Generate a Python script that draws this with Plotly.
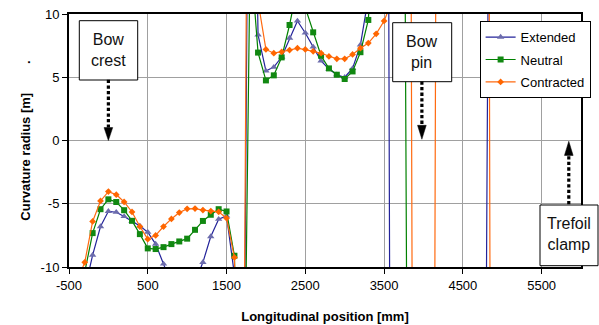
import plotly.graph_objects as go

# ---------------- data ----------------
positions_mm = [-400, -300, -200, -100, 0, 100, 200, 300, 400, 500, 600, 700, 800, 900,
                1000, 1100, 1200, 1300, 1400, 1500, 1600, 1700, 1800, 1900, 2000, 2100,
                2200, 2300, 2400, 2500, 2600, 2700, 2800, 2900, 3000, 3100, 3200, 3300,
                3400, 3500, 3600, 3700, 3800, 3900, 4000, 4100, 4200, 4300, 4400, 4500,
                4600, 4700, 4800, 4900, 5000]

extended = [-16, -11.8, -9.06, -6.8, -5.6, -5.67, -6.0, -6.4, -6.75, -7.25, -8.19, -9.76,
            -11.4, -13, -13, -11.2, -9.63, -7.59, -6.22, -5.96, -10.6, -40, 45, 8.35,
            5.5, 5.8, 6.6, 8.1, 9.45, 8.5, 7.4, 6.3, 5.65, 5.2, 5.0, 5.7, 7.56, 11.3,
            20, 130, -70, -40, -30, -25, -25, -25, -25, -30, -30, -35, -40, -60, -10.5,
            100, 60]

neutral = [-14, -10.4, -7.32, -5.43, -4.65, -4.86, -5.51, -6.35, -7.4, -8.53, -8.58, -8.43,
           -8.19, -7.98, -7.76, -7.06, -6.36, -5.87, -5.43, -5.61, -9.11, -35, 15, 6.95,
           4.75, 5.15, 6.57, 9.13, 12.2, 10.5, 8.55, 6.7, 5.7, 5.2, 4.86, 5.46, 6.98, 9.53,
           20, 40, 60, 100, -30, -30, -30, -30, -30, -30, -30, -30, -30, -30, -30,
           -30, -30]

contracted = [-11.2, -9.63, -6.4, -4.78, -4.04, -4.28, -4.86, -5.65, -6.8, -7.8, -7.5, -6.8,
              -6.2, -5.7, -5.4, -5.38, -5.5, -5.58, -5.64, -6.14, -9.24, -40, 60, 11,
              7.2, 6.9, 7.0, 7.15, 7.3, 7.2, 7.05, 6.9, 6.65, 6.46, 6.46, 6.8, 7.3, 7.7,
              8.43, 9.45, 11, 20, 100, -100, -40, -100, 100, 40, 30, 30, 30, 40, 100,
              -150, -60]

series_names = ["Extended", "Neutral", "Contracted"]

x_tick_values = [-500, 500, 1500, 2500, 3500, 4500, 5500]
x_tick_labels = ["-500", "500", "1500", "2500", "3500", "4500", "5500"]
y_tick_values = [-10, -5, 0, 5, 10]
y_tick_labels = ["-10", "-5", "0", "5", "10"]

# ---------------- styling ----------------
styles = [
    dict(line="#23239A", marker="#6C6CAC", symbol="triangle-up", size=6.5),
    dict(line="#008000", marker="#118811", symbol="square", size=6),
    dict(line="#FF6A10", marker="#FF6600", symbol="diamond", size=5.2),
]

FONT = "Liberation Sans, Arial, sans-serif"
NARROW = "Liberation Sans Narrow, Arial Narrow, Liberation Sans, Arial, sans-serif"

fig = go.Figure()
for name, ys, st in zip(series_names, [extended, neutral, contracted], styles):
    fig.add_trace(go.Scatter(
        x=positions_mm, y=ys, name=name, mode="lines+markers", legendgroup=name,
        line=dict(color=st["line"], width=1.2),
        marker=dict(symbol=st["symbol"], size=st["size"], color=st["marker"],
                    line=dict(width=0)),
        cliponaxis=True,
    ))

axis_common = dict(
    showline=True, linewidth=2, linecolor="black", mirror=True, automargin=False,
    showgrid=True, gridcolor="#A0A0A0", gridwidth=1, zeroline=False,
    ticks="outside", ticklen=5, tickwidth=1, tickcolor="black",
    tickfont=dict(family=FONT, size=13, color="black"),
)

fig.update_layout(
    template="none",
    width=599, height=325,
    margin=dict(l=69, r=18, t=14, b=58, autoexpand=False),
    paper_bgcolor="white", plot_bgcolor="white",
    font=dict(family=FONT, size=13, color="black"),
    showlegend=True,
    legend=dict(xref="container", yref="container",
                x=0.986, y=0.935, xanchor="right", yanchor="top",
                bgcolor="white", bordercolor="black", borderwidth=1,
                font=dict(family=FONT, size=13, color="black"),
                itemwidth=30, traceorder="grouped", tracegroupgap=2.5),
    xaxis=dict(range=[-500, 6000], tickvals=x_tick_values, ticktext=x_tick_labels,
               title=dict(text="<b>Longitudinal position [mm]</b>",
                          font=dict(family=FONT, size=13, color="black"), standoff=20),
               **axis_common),
    yaxis=dict(range=[-10, 10], tickvals=y_tick_values, ticktext=y_tick_labels,
               title=dict(text="<b>Curvature radius [m]" + "\u00a0" * 8 + ".</b>",
                          font=dict(family=FONT, size=13, color="black"), standoff=7),
               **axis_common),
)

# ---------------- annotation boxes ----------------
# box frame drawn as a paper-referenced rectangle (not clipped), text as annotation
box_frames = [
    dict(text="Bow<br>crest", x=0, y=7.14, px0=79.3, px1=137.7, py0=20.7, py1=80.0),
    dict(text="Bow<br>pin", x=3980, y=6.99, px0=392.7, px1=451.7, py0=22.7, py1=81.7),
    dict(text="Trefoil<br>clamp", x=5845, y=-7.43, px0=540.0, px1=598.0, py0=205.0, py1=265.7),
]
L, T, PW, PH = 69, 14, 512, 253
for b in box_frames:
    fig.add_shape(type="rect", xref="paper", yref="paper", layer="above",
                  x0=(b["px0"] - L) / PW, x1=(b["px1"] - L) / PW,
                  y0=1 - (b["py1"] - T) / PH, y1=1 - (b["py0"] - T) / PH,
                  fillcolor="white", line=dict(color="black", width=1))
    fig.add_annotation(
        x=b["x"], y=b["y"], xref="x", yref="y", text=b["text"], showarrow=False,
        align="center", valign="middle", borderpad=0,
        font=dict(family=NARROW, size=16, color="#111111"),
    )

# dotted arrows (shaft + solid head)
arrows = [
    dict(x=0, y0=4.8, y1=1.02, tip=0.0),
    dict(x=3980, y0=4.67, y1=1.2, tip=0.1),
    dict(x=5845, y0=-5.04, y1=-1.18, tip=-0.06),
]
half_w = 55
for a in arrows:
    fig.add_shape(type="line", x0=a["x"], x1=a["x"], y0=a["y0"], y1=a["y1"],
                  xref="x", yref="y", layer="above",
                  line=dict(color="black", width=3.2, dash="3.3px,2.3px"))
    fig.add_shape(type="path", xref="x", yref="y", layer="above",
                  path=f"M {a['x'] - half_w},{a['y1']} L {a['x'] + half_w},{a['y1']} "
                       f"L {a['x']},{a['tip']} Z",
                  fillcolor="black", line=dict(color="black", width=0.5))

fig.write_html("out.html")
